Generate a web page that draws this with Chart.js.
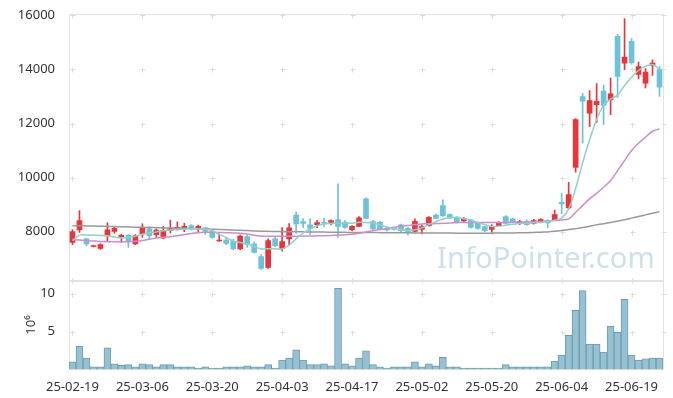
<!DOCTYPE html>
<html lang="ko">
<head>
  <meta charset="UTF-8">
  <title>Candle chart</title>
  <script src="https://cdn.jsdelivr.net/npm/chart.js@4.4.3/dist/chart.umd.min.js"></script>
  <style>
    html, body { margin: 0; padding: 0; background: #fff; }
    #wrap { width: 673px; height: 398px; position: relative; }
  </style>
</head>
<body>
  <div id="wrap"><canvas id="stockChart"></canvas></div>

  <script>
    const dates = [
      '25-02-19','25-02-20','25-02-21','25-02-24','25-02-25','25-02-26','25-02-27','25-02-28','25-03-04','25-03-05',
      '25-03-06','25-03-07','25-03-10','25-03-11','25-03-12','25-03-13','25-03-14','25-03-17','25-03-18','25-03-19',
      '25-03-20','25-03-21','25-03-24','25-03-25','25-03-26','25-03-27','25-03-28','25-03-31','25-04-01','25-04-02',
      '25-04-03','25-04-04','25-04-07','25-04-08','25-04-09','25-04-10','25-04-11','25-04-14','25-04-15','25-04-16',
      '25-04-17','25-04-18','25-04-21','25-04-22','25-04-23','25-04-24','25-04-25','25-04-28','25-04-29','25-04-30',
      '25-05-02','25-05-07','25-05-08','25-05-09','25-05-12','25-05-13','25-05-14','25-05-15','25-05-16','25-05-19',
      '25-05-20','25-05-21','25-05-22','25-05-23','25-05-26','25-05-27','25-05-28','25-05-29','25-05-30','25-06-02',
      '25-06-04','25-06-05','25-06-09','25-06-10','25-06-11','25-06-12','25-06-13','25-06-16','25-06-17','25-06-18',
      '25-06-19','25-06-20','25-06-23','25-06-24','25-06-25'
    ];

    const opens = [
      7605,8063,7730,7450,7382,7852,8011,7815,7863,7545,
      7915,8100,7890,7767,8037,8100,8100,8222,8137,8137,
      8011,7655,7690,7640,7360,7815,7545,7075,6680,7730,
      7380,7730,8617,8370,8250,8260,8333,8345,8444,8345,
      8074,8196,9211,8370,8345,8122,8110,8250,8122,8011,
      8085,8222,8617,8963,8630,8530,8400,8433,8307,8185,
      8085,8222,8555,8470,8320,8370,8307,8345,8407,8444,
      9085,8878,10380,13000,12380,12700,13200,12878,15222,14230,
      15037,13815,13490,14150,14000
    ];
    const highs = [
      8074,8778,7760,7507,7555,8322,8170,7900,7890,7890,
      8285,8185,8100,8196,8430,8360,8310,8260,8240,8160,
      8060,7915,7780,7720,7870,7870,7620,7150,7730,7815,
      8150,8300,8720,8480,8480,8420,8500,8440,9767,8420,
      8220,8560,9250,8420,8380,8160,8150,8280,8160,8470,
      8250,8560,8650,9174,8660,8560,8520,8460,8340,8210,
      8260,8370,8590,8500,8420,8440,8460,8480,8440,8800,
      9418,9826,12180,13120,13220,13480,13420,13680,15300,15880,
      15140,14270,14030,14360,14110
    ];
    const lows = [
      7519,7975,7470,7430,7345,7667,7940,7600,7420,7520,
      7790,7740,7790,7740,7950,8050,8000,8063,8000,7900,
      7760,7640,7520,7330,7330,7420,7210,6600,6640,7440,
      7280,7500,7930,8150,7900,8150,8180,8250,7790,8120,
      8040,8180,8470,8060,8060,8030,8050,8000,7880,7990,
      7930,8200,8470,8560,8480,8320,8340,8130,8090,8000,
      7980,8200,8280,8320,8260,8230,8280,8320,8150,8420,
      8655,8840,10200,11270,11885,12030,11960,12330,12970,13990,
      14200,13650,13320,13780,13000
    ];
    const closes = [
      8000,8407,7545,7460,7519,8063,8122,7863,7667,7852,
      8160,7852,8060,8037,8122,8160,8196,8100,8196,8011,
      7790,7690,7567,7360,7835,7520,7235,6640,7667,7480,
      7630,8137,8285,8307,8122,8333,8310,8407,8196,8160,
      8196,8507,8492,8100,8100,8063,8085,8037,8000,8380,
      8185,8530,8492,8593,8507,8345,8470,8160,8122,8037,
      8185,8345,8307,8345,8370,8260,8407,8444,8320,8630,
      9025,9370,12150,12826,12852,12826,12667,13100,13740,14455,
      14250,14110,13900,14235,13345
    ];

    const ma5 = [
      7673,7870,7878,7870,7860,7850,7800,7767,7780,7830,
      7900,7960,7990,8037,8060,8080,8100,8110,8110,8100,
      8040,7900,7780,7650,7600,7545,7450,7360,7370,7365,
      7360,7500,7730,7950,8100,8220,8285,8300,8310,8310,
      8310,8345,8340,8310,8250,8170,8110,8080,8040,8070,
      8140,8260,8370,8460,8510,8530,8480,8420,8340,8260,
      8190,8200,8240,8270,8300,8310,8330,8350,8370,8420,
      8500,8840,9600,10550,11400,12150,12680,12900,13050,13410,
      13715,13963,14120,14185,14000
    ];
    const ma20 = [
      7700,7690,7670,7650,7635,7630,7630,7630,7630,7640,
      7670,7720,7760,7790,7815,7850,7890,7930,7960,7975,
      7975,7970,7960,7950,7940,7910,7870,7835,7826,7826,
      7826,7826,7830,7835,7840,7845,7850,7860,7870,7880,
      7900,7940,7990,8037,8080,8120,8160,8200,8230,8260,
      8285,8290,8300,8310,8320,8330,8340,8340,8340,8340,
      8335,8335,8340,8345,8350,8355,8360,8370,8390,8410,
      8433,8470,8715,8963,9211,9418,9640,9889,10260,10630,
      11000,11270,11492,11715,11800
    ];
    const ma60 = [
      8222,8216,8211,8205,8200,8195,8188,8181,8174,8167,
      8160,8154,8148,8142,8136,8130,8123,8115,8108,8100,
      8090,8080,8070,8060,8049,8038,8026,8015,8011,8007,
      8003,7999,7995,7992,7989,7986,7983,7980,7975,7973,
      7971,7969,7967,7965,7963,7962,7960,7958,7956,7954,
      7950,7949,7948,7947,7946,7945,7945,7945,7945,7945,
      7945,7948,7951,7954,7957,7960,7970,7980,7990,8010,
      8040,8075,8110,8150,8200,8250,8295,8340,8385,8440,
      8500,8560,8620,8680,8740
    ];

    const volumes = [
      1.0,3.1,1.5,0.35,0.35,2.85,0.75,0.55,0.65,0.35,
      0.75,0.65,0.35,0.65,0.65,0.35,0.35,0.35,0.2,0.35,
      0.2,0.2,0.35,0.35,0.35,0.5,0.35,0.35,0.65,0.2,
      1.25,1.5,2.6,1.25,0.65,0.65,0.75,0.5,10.7,0.75,
      0.5,1.5,2.45,0.65,0.35,0.2,0.35,0.35,0.35,1.0,
      0.35,0.75,0.5,1.6,0.35,0.35,0.2,0.2,0.2,0.2,
      0.2,0.2,0.65,0.35,0.35,0.35,0.35,0.35,0.35,1.1,
      1.9,4.5,7.8,10.4,3.35,3.35,2.3,5.7,4.9,9.25,
      1.9,1.25,1.4,1.5,1.5
    ];

    const priceTicks = [8000, 10000, 12000, 14000, 16000];
    const volumeTicks = [5, 10];
    const dateTickEvery = 10;

    const UP = '#e8353b';
    const DOWN = '#6cc3d9';
    const candleColors = closes.map((c, i) => c >= opens[i] ? UP : DOWN);
    const tickFont = { family: 'Noto Sans', size: 13 };

    // grid crosses, panel frames and watermark
    const framePlugin = {
      id: 'frame',
      beforeDatasetsDraw(chart) {
        const { ctx, chartArea: a, scales } = chart;
        const x = scales.x, y = scales.y, yv = scales.yv;
        ctx.save();

        // watermark
        ctx.fillStyle = '#cfe0ea';
        ctx.font = '30px "Noto Sans"';
        const text = 'InfoPointer.com';
        const w = ctx.measureText(text).width;
        ctx.font = (30 * 218 / w).toFixed(1) + 'px "Noto Sans"';
        ctx.textBaseline = 'alphabetic';
        ctx.fillText(text, 437, 268);

        ctx.strokeStyle = '#dcdcdc';
        ctx.lineWidth = 1;
        const cross = (px, py) => {
          px = Math.round(px) + 0.5; py = Math.round(py) + 0.5;
          ctx.beginPath();
          ctx.moveTo(px - 2, py); ctx.lineTo(px + 3, py);
          ctx.moveTo(px, py - 2); ctx.lineTo(px, py + 3);
          ctx.stroke();
        };
        const xIdx = dates.map((d, i) => i).filter(i => i % dateTickEvery === 0);
        xIdx.forEach(i => {
          const px = x.getPixelForValue(i);
          priceTicks.forEach(v => cross(px, y.getPixelForValue(v)));
          volumeTicks.forEach(v => cross(px, yv.getPixelForValue(v)));
          cross(px, y.bottom);
        });
        priceTicks.forEach(v => cross(a.right, y.getPixelForValue(v)));
        volumeTicks.forEach(v => cross(a.right, yv.getPixelForValue(v)));

        ctx.strokeStyle = '#e3e3e3';
        [y, yv].forEach(s => {
          ctx.strokeRect(Math.round(a.left) + 0.5, Math.round(s.top) + 0.5,
            Math.round(a.right - a.left), Math.round(s.bottom - s.top));
        });
        ctx.restore();
      }
    };

    new Chart(document.getElementById('stockChart'), {
      data: {
        labels: dates,
        datasets: [
          { type: 'line', label: 'MA5', data: ma5, yAxisID: 'y', borderColor: '#90d0c8', borderWidth: 1.5,
            pointRadius: 0, tension: 0.35, order: 0 },
          { type: 'line', label: 'MA20', data: ma20, yAxisID: 'y', borderColor: '#cd8ccb', borderWidth: 1.5,
            pointRadius: 0, tension: 0.35, order: 0 },
          { type: 'line', label: 'MA60', data: ma60, yAxisID: 'y', borderColor: '#999999', borderWidth: 1.5,
            pointRadius: 0, tension: 0.35, order: 0 },
          { type: 'bar', label: 'body', data: opens.map((o, i) => [o, closes[i]]), yAxisID: 'y',
            backgroundColor: candleColors, barThickness: 5, minBarLength: 1, grouped: false, order: 1 },
          { type: 'bar', label: 'wick', data: lows.map((l, i) => [l, highs[i]]), yAxisID: 'y',
            backgroundColor: candleColors, barThickness: 1, grouped: false, order: 2 },
          { type: 'bar', label: 'volume', data: volumes, yAxisID: 'yv',
            backgroundColor: '#97c0d1', borderColor: '#6a9eb6', borderWidth: 1,
            barPercentage: 1, categoryPercentage: 1, grouped: false, order: 3 }
        ]
      },
      options: {
        responsive: true,
        maintainAspectRatio: false,
        animation: false,
        layout: { padding: { top: 12, right: 10, left: 0, bottom: 0 } },
        plugins: { legend: { display: false }, tooltip: { enabled: false } },
        scales: {
          x: {
            type: 'category',
            offset: true,
            grid: { display: false },
            border: { display: false },
            ticks: {
              autoSkip: false, maxRotation: 0, minRotation: 0, padding: 2,
              color: '#333', font: tickFont,
              callback: (v, i) => i % dateTickEvery === 0 ? dates[i] : ''
            },
            afterFit: s => { s.height = 28.5; }
          },
          yv: {
            stack: 'panels', stackWeight: 89.5, position: 'left',
            min: 0, max: 11.75,
            grid: { display: false },
            border: { display: false },
            ticks: { color: '#333', font: tickFont, padding: 6, callback: v => String(v) },
            title: { display: true, text: '10⁶', color: '#333', font: tickFont, padding: { top: 23, bottom: 0 } },
            afterBuildTicks: s => { s.ticks = volumeTicks.map(v => ({ value: v })); },
            afterFit: s => { s.width = 69; }
          },
          y: {
            stack: 'panels', stackWeight: 268, position: 'left',
            min: 6194, max: 16060,
            grid: { display: false },
            border: { display: false },
            ticks: { color: '#333', font: tickFont, padding: 6, callback: v => String(v) },
            afterBuildTicks: s => { s.ticks = priceTicks.map(v => ({ value: v })); },
            afterFit: s => { s.width = 69; }
          }
        }
      },
      plugins: [framePlugin]
    });
  </script>
</body>
</html>
